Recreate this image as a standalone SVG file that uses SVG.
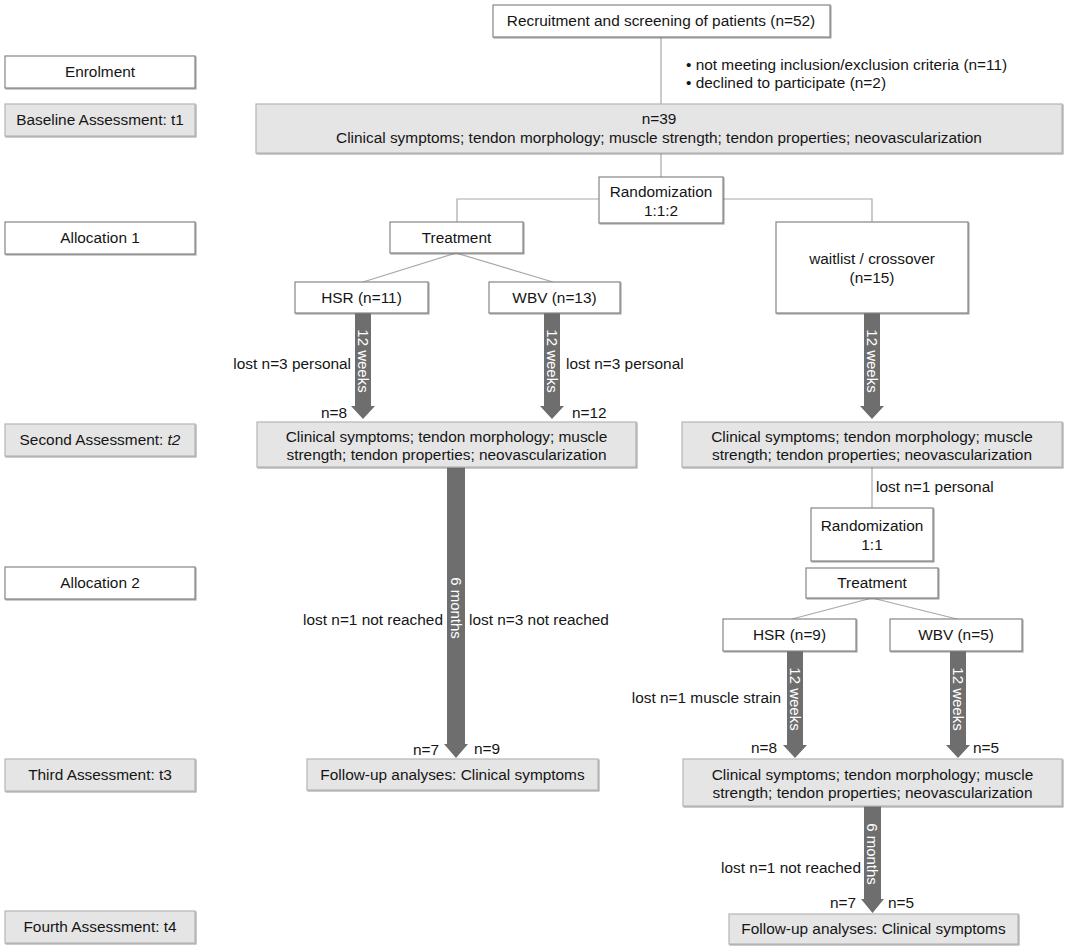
<svg xmlns="http://www.w3.org/2000/svg" width="1065" height="949" viewBox="0 0 1065 949">
<defs>
<filter id="sh" x="-5%" y="-5%" width="110%" height="120%"><feDropShadow dx="1" dy="1" stdDeviation="0.3" flood-color="#666" flood-opacity="0.55"/></filter>
</defs>
<style>
.w{fill:#fff;stroke:#858585;stroke-width:1.2;filter:url(#sh)}
.g{fill:#e5e5e5;stroke:#b5b5b5;stroke-width:1.2;filter:url(#sh)}
text{font-family:"Liberation Sans",Arial,sans-serif;font-size:15.4px;fill:#151515}
.c{text-anchor:middle}
.e{text-anchor:end}
.arrow{fill:#6e6e6e}
.at{fill:#fff;font-size:15px;text-anchor:middle}
.ln{stroke:#a8a8a8;stroke-width:1.2;fill:none}
</style>
<rect width="1065" height="949" fill="#fff"/>
<g id="connectors">
<path class="ln" d="M661,37 V104 M661,153 V177"/>
<path class="ln" d="M599,199 H457 V222 M723,199 H872 V222"/>
<path class="ln" d="M456,253 L363,282" stroke="#8c8c8c"/>
<path class="ln" d="M456,253 L553,282"/>
<path class="ln" d="M872,467 V508"/>
<path class="ln" d="M872,598 L792,619 M872,598 L957,619"/>
<path class="arrow" d="M355,313 H371 V406 H375 L363,419 L351,406 H355 Z"/>
<path class="arrow" d="M544,313 H560 V406 H564 L552,419 L540,406 H544 Z"/>
<path class="arrow" d="M864,313 H880 V406 H884 L872,419 L860,406 H864 Z"/>
<path class="arrow" d="M447,467 H465 V744 H468 L456,758 L444,744 H447 Z"/>
<path class="arrow" d="M787,651 H803 V745 H807 L795,758 L783,745 H787 Z"/>
<path class="arrow" d="M950,651 H966 V745 H970 L958,758 L946,745 H950 Z"/>
<path class="arrow" d="M864,806 H881 V899 H884 L872.5,913 L861,899 H864 Z"/>
<text class="at" transform="translate(363,361) rotate(90)" dy="0.35em">12 weeks</text>
<text class="at" transform="translate(552,361) rotate(90)" dy="0.35em">12 weeks</text>
<text class="at" transform="translate(872,361) rotate(90)" dy="0.35em">12 weeks</text>
<text class="at" transform="translate(456,608) rotate(90)" dy="0.35em">6 months</text>
<text class="at" transform="translate(795,699) rotate(90)" dy="0.35em">12 weeks</text>
<text class="at" transform="translate(958,699) rotate(90)" dy="0.35em">12 weeks</text>
<text class="at" transform="translate(872.5,854) rotate(90)" dy="0.35em">6 months</text>
<text x="686" y="65" dy="0.35em">• not meeting inclusion/exclusion criteria (n=11)</text>
<text x="686" y="83" dy="0.35em">• declined to participate (n=2)</text>
<text class="e" x="351" y="364" dy="0.35em">lost n=3 personal</text>
<text x="566" y="364" dy="0.35em">lost n=3 personal</text>
<text class="e" x="347" y="413" dy="0.35em">n=8</text>
<text x="572" y="413" dy="0.35em">n=12</text>
<text class="e" x="443" y="620" dy="0.35em">lost n=1 not reached</text>
<text x="469" y="620" dy="0.35em">lost n=3 not reached</text>
<text class="e" x="439" y="750" dy="0.35em">n=7</text>
<text x="474" y="749" dy="0.35em">n=9</text>
<text x="876" y="487" dy="0.35em">lost n=1 personal</text>
<text class="e" x="781" y="698" dy="0.35em">lost n=1 muscle strain</text>
<text class="e" x="777" y="748" dy="0.35em">n=8</text>
<text x="973" y="748" dy="0.35em">n=5</text>
<text class="e" x="861" y="868" dy="0.35em">lost n=1 not reached</text>
<text class="e" x="856" y="903" dy="0.35em">n=7</text>
<text x="888" y="903" dy="0.35em">n=5</text>
</g>
<g id="lbl-enrolment"><rect class="w" x="5" y="56" width="190" height="32"/><text class="c" x="100" y="72" dy="0.35em">Enrolment</text></g>
<g id="lbl-baseline"><rect class="g" x="5" y="104" width="190" height="32"/><text class="c" x="100" y="120" dy="0.35em">Baseline Assessment: t1</text></g>
<g id="lbl-alloc1"><rect class="w" x="5" y="222" width="190" height="32"/><text class="c" x="100" y="238" dy="0.35em">Allocation 1</text></g>
<g id="lbl-second"><rect class="g" x="5" y="424" width="190" height="32"/><text class="c" x="100" y="440" dy="0.35em">Second Assessment: <tspan font-style="italic">t2</tspan></text></g>
<g id="lbl-alloc2"><rect class="w" x="5" y="567" width="190" height="32"/><text class="c" x="100" y="583" dy="0.35em">Allocation 2</text></g>
<g id="lbl-third"><rect class="g" x="5" y="759" width="190" height="32"/><text class="c" x="100" y="775" dy="0.35em">Third Assessment: t3</text></g>
<g id="lbl-fourth"><rect class="g" x="5" y="911" width="190" height="32"/><text class="c" x="100" y="927" dy="0.35em">Fourth Assessment: t4</text></g>
<g id="recruit"><rect class="w" x="493" y="5" width="337" height="32"/><text class="c" x="661" y="21" dy="0.35em">Recruitment and screening of patients (n=52)</text></g>
<g id="baseline"><rect class="g" x="256" y="104" width="806" height="49"/><text class="c" x="659" y="119" dy="0.35em">n=39</text><text class="c" x="659" y="138" dy="0.35em">Clinical symptoms; tendon morphology; muscle strength; tendon properties; neovascularization</text></g>
<g id="rand1"><rect class="w" x="599" y="177" width="124" height="46"/><text class="c" x="661" y="192" dy="0.35em">Randomization</text><text class="c" x="661" y="211" dy="0.35em">1:1:2</text></g>
<g id="treat1"><rect class="w" x="390" y="222" width="133" height="31"/><text class="c" x="456.5" y="237.5" dy="0.35em">Treatment</text></g>
<g id="waitlist"><rect class="w" x="776" y="222" width="192" height="91"/><text class="c" x="872" y="259" dy="0.35em">waitlist / crossover</text><text class="c" x="872" y="278" dy="0.35em">(n=15)</text></g>
<g id="hsr1"><rect class="w" x="295" y="282" width="133" height="31"/><text class="c" x="361.5" y="297.5" dy="0.35em">HSR (n=11)</text></g>
<g id="wbv1"><rect class="w" x="489" y="282" width="131" height="31"/><text class="c" x="554.5" y="297.5" dy="0.35em">WBV (n=13)</text></g>
<g id="second-left"><rect class="g" x="257" y="422" width="379" height="45"/><text class="c" x="446.5" y="437" dy="0.35em">Clinical symptoms; tendon morphology; muscle</text><text class="c" x="446.5" y="455" dy="0.35em">strength; tendon properties; neovascularization</text></g>
<g id="second-right"><rect class="g" x="682" y="422" width="380" height="45"/><text class="c" x="872" y="437" dy="0.35em">Clinical symptoms; tendon morphology; muscle</text><text class="c" x="872" y="455" dy="0.35em">strength; tendon properties; neovascularization</text></g>
<g id="rand2"><rect class="w" x="811" y="508" width="122" height="53"/><text class="c" x="872" y="526" dy="0.35em">Randomization</text><text class="c" x="872" y="545" dy="0.35em">1:1</text></g>
<g id="treat2"><rect class="w" x="806" y="568" width="132" height="30"/><text class="c" x="872" y="583" dy="0.35em">Treatment</text></g>
<g id="hsr2"><rect class="w" x="723" y="619" width="133" height="32"/><text class="c" x="789.5" y="635" dy="0.35em">HSR (n=9)</text></g>
<g id="wbv2"><rect class="w" x="890" y="619" width="132" height="32"/><text class="c" x="956" y="635" dy="0.35em">WBV (n=5)</text></g>
<g id="followup-left"><rect class="g" x="307" y="759" width="291" height="31"/><text class="c" x="452.5" y="774.5" dy="0.35em">Follow-up analyses: Clinical symptoms</text></g>
<g id="third-right"><rect class="g" x="683" y="759" width="379" height="47"/><text class="c" x="872.5" y="775" dy="0.35em">Clinical symptoms; tendon morphology; muscle</text><text class="c" x="872.5" y="793" dy="0.35em">strength; tendon properties; neovascularization</text></g>
<g id="followup-right"><rect class="g" x="729" y="914" width="289" height="30"/><text class="c" x="873.5" y="929" dy="0.35em">Follow-up analyses: Clinical symptoms</text></g>
</svg>
